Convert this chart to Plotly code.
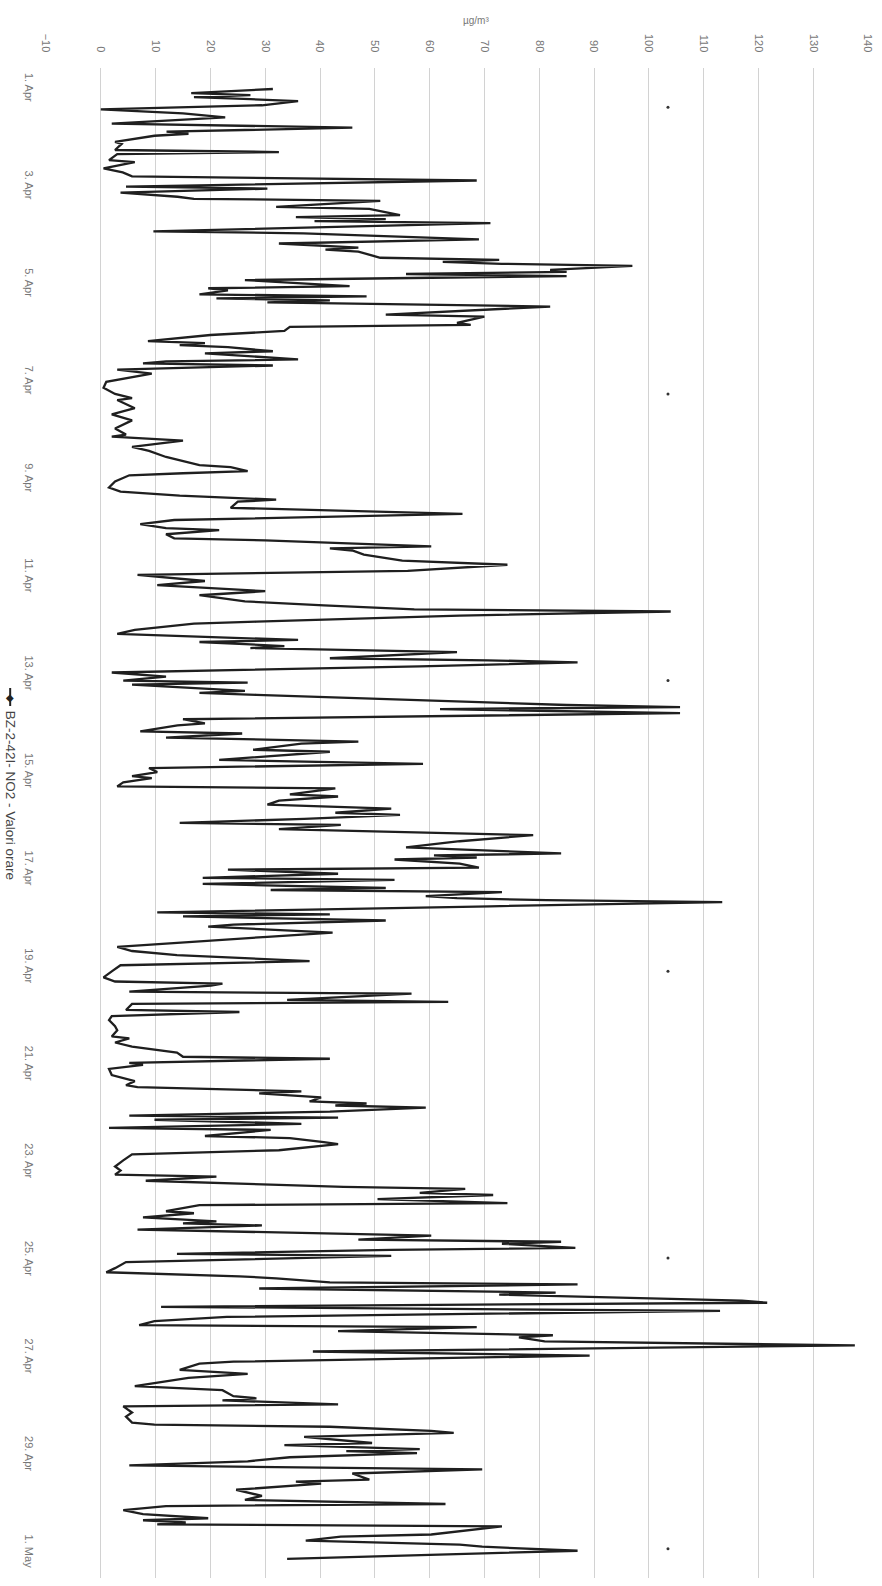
import plotly.graph_objects as go
import pandas as pd

# Hourly NO2 readings: hours since 1 Apr 00:00 and value in µg/m³
hours = [0, 2, 3, 4, 5, 6, 8, 10, 12, 14, 17, 19, 21, 22, 23, 26, 27, 30, 31, 32, 35, 36, 39, 41, 43, 45, 48, 49, 51, 53, 54, 55, 58, 59, 62, 63, 64, 65, 66, 70, 71, 72, 74, 76, 77, 78, 79, 80, 83, 84, 85, 86, 87, 89, 90, 91, 92, 94, 97, 98, 99, 101, 102, 103, 104, 105, 107,
         111, 112, 115, 116, 117, 119, 121, 124, 125, 126, 127, 129, 130, 133, 134, 135, 136, 138, 140, 144, 147, 150, 152, 153, 157, 160, 163, 167, 170, 171, 173, 176, 178, 181, 185, 186, 188, 189, 190, 193, 196, 198, 199, 200, 202, 203, 206, 209, 212, 214, 216, 217, 219, 221, 222, 225, 226,
         227, 229, 232, 234, 237, 239, 242, 244, 247, 249, 252, 254, 256, 257, 259, 262, 263, 266, 268, 271, 272, 274, 275, 277, 280, 281, 282, 284, 287, 289, 291, 292, 293, 296, 297, 298, 303, 304, 305, 307, 310, 312, 313, 316, 317, 319, 320, 321, 322, 325, 326, 330, 332, 334, 336, 338, 339, 341, 343,
         344, 347, 348, 350, 352, 354, 356, 357, 359, 361, 362, 364, 366, 367, 370, 373, 376, 377, 378, 379, 381, 383, 384, 386, 388, 389, 391, 393, 394, 395, 397, 398, 399, 400, 402, 405, 406, 407, 409, 411, 412, 415, 417, 421, 422, 424, 426, 429, 431, 434, 437, 439, 440, 441, 444, 445, 448, 449, 450, 453, 454, 456, 458, 461,
         463, 466, 467, 469, 471, 474, 476, 477, 479, 480, 482, 485, 488, 490, 491, 493, 494, 496, 498, 499, 500, 501, 503, 505, 506, 507, 509, 511, 512, 515, 516, 518, 519, 522, 524, 527, 530, 532, 534, 535, 537, 539, 540, 541, 543, 544, 546, 548, 549, 552, 553, 555, 557, 558, 559, 561, 564, 566, 567, 568, 570, 571, 573, 574, 576, 577, 580,
         582, 584, 585, 587, 588, 590, 592, 593, 594, 596, 597, 599, 601, 604, 606, 608, 609, 611, 613, 614, 616, 618, 621, 623, 626, 627, 630, 632, 634, 636, 638, 640, 643, 644, 645, 647, 648, 651, 653, 656, 657, 658, 660, 661, 663, 666, 667, 669, 670, 671, 673, 675, 677, 679, 681, 684, 685, 686, 689, 692, 694, 696,
         697, 699, 701, 703, 704, 705, 706, 707, 711, 712, 714, 716, 717, 719, 723]
no2 = [31.4, 16.5, 27.3, 17, 27.3, 36, 29.4, 0, 15, 22.7, 2, 45.9, 12, 16, 9.8, 2.6, 3.8, 2.6, 32.5, 3, 1.5, 6.2, 0.5, 4, 5.7, 68.6, 4.6, 30.4, 3.6, 14, 17, 51, 32, 49, 54.6, 35.6, 52, 39, 71.1, 9.6, 37, 49, 69, 32.5, 39.7, 47, 41, 47, 51, 72.7, 62.4, 73.2, 97, 82, 85, 55.7, 85, 26.3, 45.4, 19.6, 23.2, 18, 48.5, 21.1, 41.8, 30.4, 82,
       52, 70, 65, 67.5, 34.5, 33.5, 20, 8.6, 19, 14.4, 23.2, 31.4, 19, 36, 11.9, 7.7, 31.4, 3, 9.3, 1, 0.5, 2.6, 5.7, 3, 6.2, 2, 5.7, 2.6, 4.6, 2, 15, 5.7, 8.8, 11.9, 18, 23.7, 26.8, 15, 5.2, 2.6, 1.5, 3.6, 8.8, 14.4, 32, 25, 23.7, 66, 13.4, 7.2, 11.9, 21.6, 11.9, 13.4, 30, 60.3, 41.8,
       45.9, 48, 55, 74.2, 56, 6.7, 19, 10.3, 30, 18, 26.3, 40.7, 57.2, 104, 65.5, 28.4, 17, 6.2, 3, 36, 18, 33.5, 27.3, 65, 41.8, 70.6, 87, 58.2, 2, 11.9, 4.1, 26.8, 5.7, 26.3, 18, 28.4, 85, 105.7, 61.9, 105.7, 15, 19, 14, 7.2, 25.8, 11.9, 31.4, 47, 36.6, 27.8, 41.8, 21.6, 58.8, 8.8, 10.3, 5.7, 9.3, 4.1, 3,
       42.8, 34.5, 43.3, 32.5, 30.4, 53, 42.8, 54.6, 37.1, 14.4, 43.8, 32.5, 63.4, 78.9, 65.5, 55.7, 84, 60.8, 68.6, 53.6, 65.5, 69, 23.2, 43.3, 18.6, 53.6, 18.6, 52, 31, 73.2, 59.3, 65, 81.4, 113.4, 71, 10.3, 41.8, 15, 52, 24.2, 19.6, 42.3, 30.4, 8.8, 3, 5.7, 13.9, 38.1, 3.6, 2, 0.5, 2.6, 22.2, 20.1, 5.2, 56.7, 34, 63.4, 5.7, 4.6, 25.3, 2, 1.5, 2.6,
       3, 2, 5.2, 2.6, 5.7, 13.9, 15, 41.8, 5.2, 7.7, 1.5, 2, 6.2, 4.6, 6.7, 36.6, 28.9, 40.2, 38.1, 48.5, 42.8, 59.3, 41.8, 5.2, 43.3, 9.8, 36.6, 1.5, 31, 19, 34.5, 40.7, 43.3, 32.5, 5.7, 4.1, 2.6, 3.6, 2.6, 21.1, 8.2, 32.5, 44.3, 66.5, 58.2, 71.6, 50.5, 74.2, 18, 11.9, 17, 7.7, 21.1, 15, 29.4, 6.7, 60.3, 47, 84, 73.2, 86.6, 53, 13.9, 53, 19, 4.6, 2.6,
       1, 25.3, 32, 41.8, 87, 28.9, 83, 72.7, 86, 117, 121.6, 11, 113, 23, 9.8, 7, 68.6, 43.3, 82.5, 76.3, 81, 137.6, 38.7, 89.2, 24.2, 18, 14.4, 26.8, 16, 10.8, 6.2, 22.2, 24.2, 28.4, 22.2, 43.3, 4.1, 5.7, 4.6, 5.7, 9.8, 41.8, 60.3, 64.4, 37.1, 49.5, 33.5, 58.2, 44.8, 57.7, 34.5, 26.8, 5.2, 69.6, 45.9, 49, 35.6, 40.2, 24.7, 29.4, 26.3, 62.9,
       11.9, 4.1, 7.7, 19.6, 7.7, 15.5, 10.3, 73.2, 60.3, 43.8, 37.4, 65.5, 69.6, 87, 34]

# isolated specks visible in the scan
speck_hours = [9, 150, 291, 434, 575, 718]
speck_values = [103.5, 103.5, 103.5, 103.5, 103.5, 103.5]

tick_dates = ["2013-04-01", "2013-04-03", "2013-04-05", "2013-04-07", "2013-04-09", "2013-04-11",
              "2013-04-13", "2013-04-15", "2013-04-17", "2013-04-19", "2013-04-21", "2013-04-23",
              "2013-04-25", "2013-04-27", "2013-04-29", "2013-05-01"]
tick_labels = ["1. Apr", "3. Apr", "5. Apr", "7. Apr", "9. Apr", "11. Apr", "13. Apr", "15. Apr",
               "17. Apr", "19. Apr", "21. Apr", "23. Apr", "25. Apr", "27. Apr", "29. Apr", "1. May"]
value_ticks = list(range(-10, 150, 10))

series_name = "BZ-2-42I- NO2 - Valori orare"
unit_title = "µg/m³"

base = pd.Timestamp("2013-04-01")
times = base + pd.to_timedelta(hours, unit="h")
speck_times = base + pd.to_timedelta(speck_hours, unit="h")

fig = go.Figure()
fig.add_trace(go.Scatter(x=no2, y=times, mode="lines",
                         line=dict(color="#1f1f1f", width=2.3),
                         name=series_name, showlegend=False))
fig.add_trace(go.Scatter(x=speck_values, y=speck_times, mode="markers",
                         marker=dict(color="#333", size=3), showlegend=False, hoverinfo="skip"))

W, H = 882, 1586
ml, mr, mt, mb = 46, 10, 68, 8
pw, ph = W - ml - mr, H - mt - mb

def px_x(p):
    return (p - ml) / pw

def px_y(p):
    return (H - mb - p) / ph

y_top = base - pd.Timedelta(hours=10.33)
y_bot = base + pd.Timedelta(hours=732.4)

fig.update_layout(
    width=W, height=H, autosize=False,
    margin=dict(l=ml, r=mr, t=mt, b=mb),
    paper_bgcolor="white", plot_bgcolor="white",
    font=dict(family="Liberation Sans, Arial, sans-serif", color="#777"),
    xaxis=dict(range=[-10, 140], tickvals=value_ticks, side="top", tickangle=90,
               showgrid=True, gridcolor="#d2d2d2", gridwidth=1, zeroline=False,
               showline=False, ticks="", tickfont=dict(size=11, color="#777"),
               ticklabelstandoff=13, ticklabeloverflow="allow"),
    yaxis=dict(type="date", range=[y_bot, y_top], tickvals=tick_dates, ticktext=tick_labels,
               tickangle=90, showgrid=False, zeroline=False, showline=False, ticks="",
               tickfont=dict(size=11, color="#777"), ticklabelstandoff=9,
               ticklabeloverflow="allow"),
    annotations=[
        dict(text=unit_title, xref="paper", yref="paper", x=px_x(478), y=px_y(20),
             showarrow=False, font=dict(size=10, color="#777"), xanchor="center", yanchor="middle"),
        dict(text=series_name, xref="paper", yref="paper", x=px_x(10), y=px_y(795),
             textangle=90, showarrow=False, font=dict(size=13.5, color="#444"),
             xanchor="center", yanchor="middle"),
        dict(text="◆", xref="paper", yref="paper", x=px_x(10), y=px_y(697),
             showarrow=False, font=dict(size=10, color="#222"), xanchor="center", yanchor="middle"),
    ],
    shapes=[dict(type="line", xref="paper", yref="paper", x0=px_x(10), x1=px_x(10),
                 y0=px_y(688), y1=px_y(706), line=dict(color="#222", width=2))],
)

fig.write_html("out.html", config={"displayModeBar": False},
               post_script="document.body.style.margin='0px';")
